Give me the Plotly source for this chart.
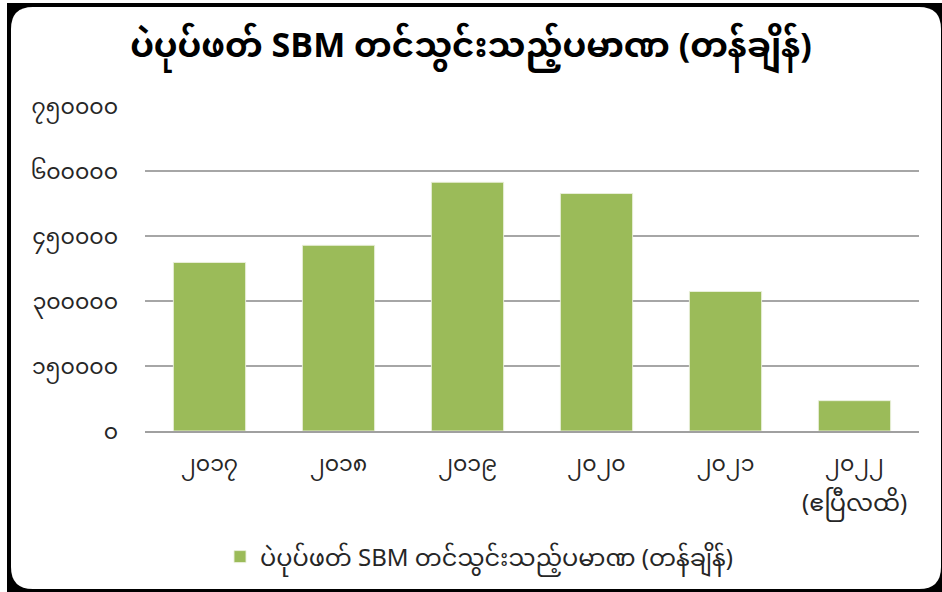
import plotly.graph_objects as go

years = ["၂၀၁၇", "၂၀၁၈", "၂၀၁၉", "၂၀၂၀", "၂၀၂၁", "၂၀၂၂"]
year_notes = ["", "", "", "", "", "(ဧပြီလထိ)"]
values = [389000, 428500, 574000, 548000, 322000, 70000]
ytick_vals = [0, 150000, 300000, 450000, 600000, 750000]
ytick_text = ["၀", "၁၅၀၀၀၀", "၃၀၀၀၀၀", "၄၅၀၀၀၀", "၆၀၀၀၀၀", "၇၅၀၀၀၀"]
title_text = "ပဲပုပ်ဖတ် SBM တင်သွင်းသည့်ပမာဏ (တန်ချိန်)"
series_name = "ပဲပုပ်ဖတ် SBM တင်သွင်းသည့်ပမာဏ (တန်ချိန်)"

W, H = 942, 592
ML, MR, MT, MB = 145, 23, 106, 161
PW = W - ML - MR
PH = H - MT - MB

FONT = "Noto Sans Myanmar, Myanmar Text, Padauk, Noto Sans, sans-serif"
TXT = "#262626"


def px(x):
    return (x - ML) / PW


def py(y):
    return (H - MB - y) / PH


def rounded_path(x0, y0, x1, y1, r):
    pts = [
        ("M", [(x0 + r, y0)]),
        ("L", [(x1 - r, y0)]),
        ("Q", [(x1, y0), (x1, y0 + r)]),
        ("L", [(x1, y1 - r)]),
        ("Q", [(x1, y1), (x1 - r, y1)]),
        ("L", [(x0 + r, y1)]),
        ("Q", [(x0, y1), (x0, y1 - r)]),
        ("L", [(x0, y0 + r)]),
        ("Q", [(x0, y0), (x0 + r, y0)]),
    ]
    s = ""
    for cmd, ps in pts:
        s += cmd + " " + " ".join(f"{px(a):.5f},{py(b):.5f}" for a, b in ps) + " "
    return s + "Z"


fig = go.Figure()
fig.add_trace(go.Bar(
    x=years, y=values, name=series_name,
    marker=dict(color="#9BBB59", line=dict(color="rgba(235,241,222,0.9)", width=1)),
    showlegend=True,
))

annotations = []
for cat, note in zip(years, year_notes):
    if note:
        annotations.append(dict(
            x=cat, xref="x", y=py(505), yref="paper", yanchor="middle",
            text=note, showarrow=False,
            font=dict(family=FONT, size=24, color=TXT),
        ))

shapes = [
    dict(type="rect", xref="paper", yref="paper", x0=px(7), x1=px(990), y0=py(640), y1=py(3),
         fillcolor="black", line=dict(width=0), layer="below"),
    dict(type="path", xref="paper", yref="paper", path=rounded_path(11, 7, 941, 589, 22),
         fillcolor="white", line=dict(width=0), layer="below"),
]

fig.update_layout(
    width=W, height=H,
    margin=dict(l=ML, r=MR, t=MT, b=MB, autoexpand=False),
    paper_bgcolor="white",
    plot_bgcolor="rgba(0,0,0,0)",
    font=dict(family=FONT, color=TXT, size=22),
    title=dict(text="<b>" + title_text + "</b>", x=0.5, xref="container", xanchor="center",
               y=1 - 45 / H, yanchor="middle",
               font=dict(family=FONT, size=34, color="#000000")),
    bargap=0.44,
    shapes=shapes,
    annotations=annotations,
    showlegend=True,
    legend=dict(orientation="h", x=px(479), xanchor="center", y=py(557), yanchor="middle",
                font=dict(family=FONT, size=24, color=TXT),
                bgcolor="rgba(0,0,0,0)", itemwidth=30),
    xaxis=dict(showgrid=False, showline=True, linecolor="#A0A0A0", linewidth=1.5,
               ticks="", tickfont=dict(family=FONT, size=22, color=TXT),
               ticklabelstandoff=12),
    yaxis=dict(range=[0, 750000], tickvals=ytick_vals, ticktext=ytick_text,
               showgrid=True, gridcolor="#A6A6A6", gridwidth=1.5,
               zeroline=False, showline=False, ticks="",
               tickfont=dict(family=FONT, size=22, color=TXT),
               ticklabelstandoff=26),
)

fig.write_html("out.html", config={"displayModeBar": False},
               post_script="document.body.style.margin='0';document.body.style.padding='0';")
